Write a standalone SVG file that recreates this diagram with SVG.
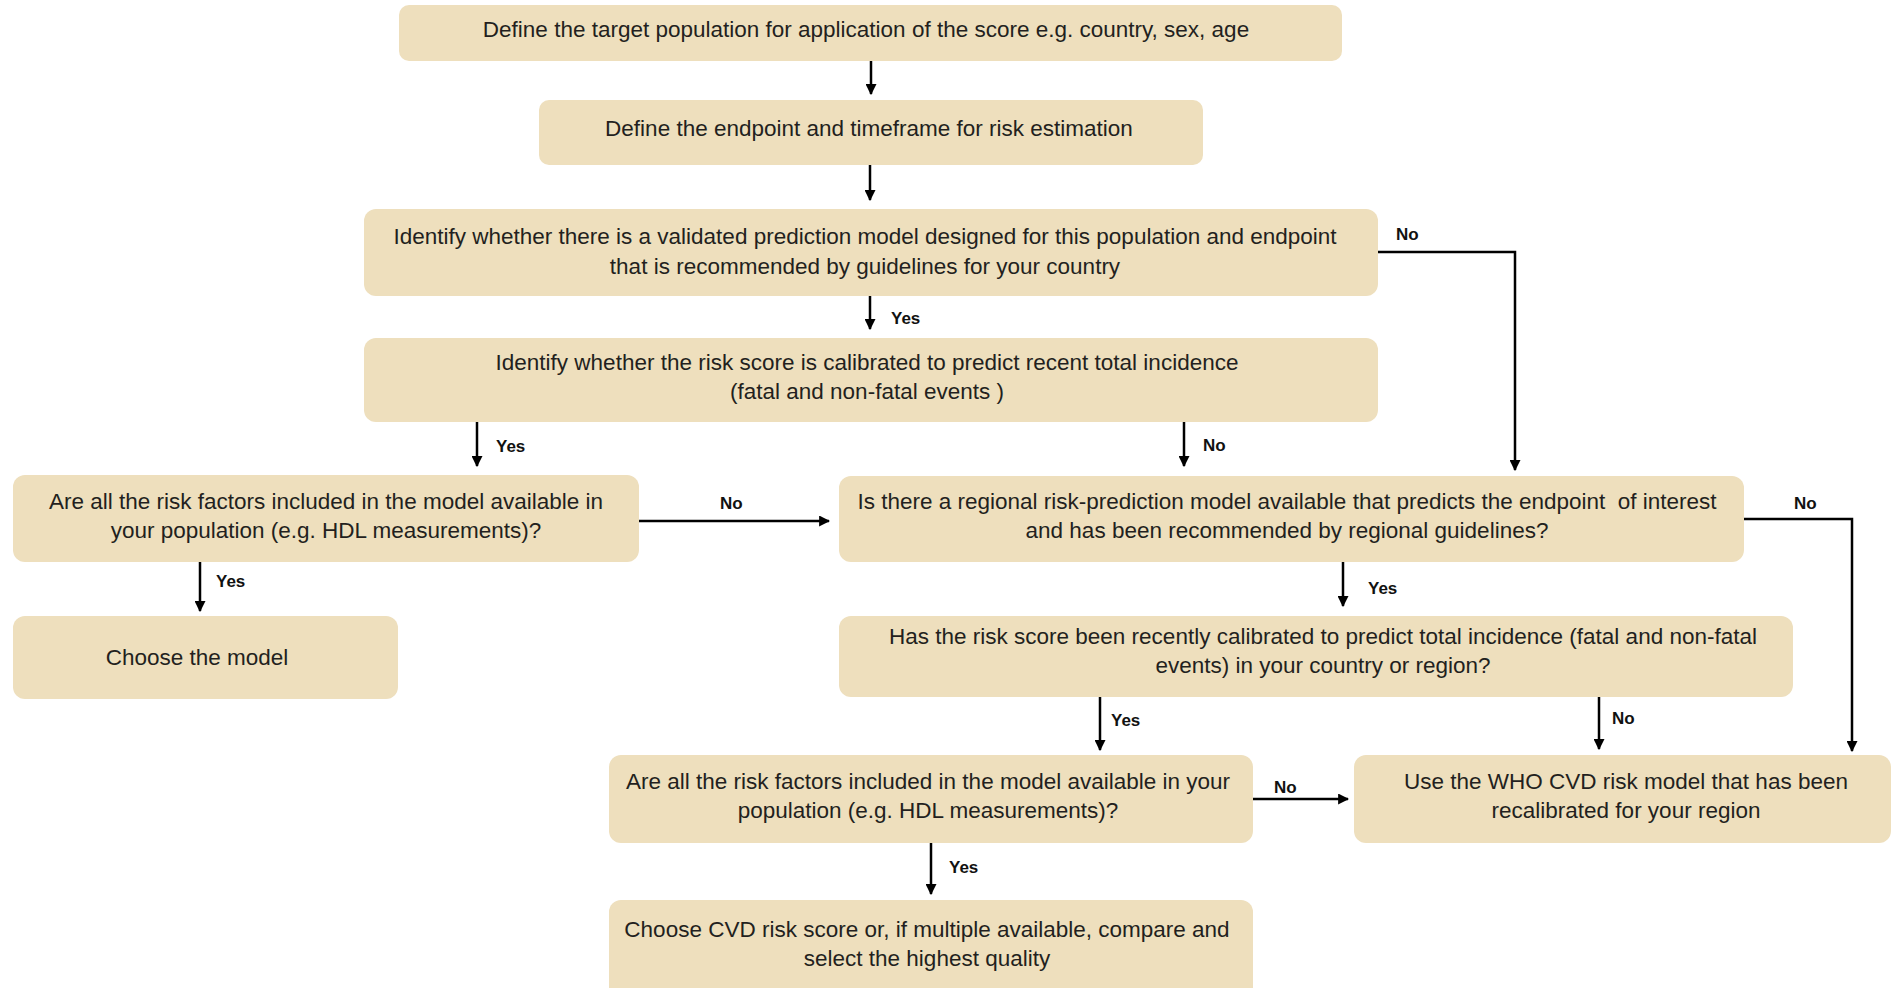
<svg xmlns="http://www.w3.org/2000/svg" width="1892" height="988" viewBox="0 0 1892 988">
  <style>
    .box { fill: #eedfbd; }
    .t { font-family: "Liberation Sans", Arial, sans-serif; font-size: 22.5px; fill: #231f20; text-anchor: middle; }
    .lbl { font-family: "Liberation Sans", Arial, sans-serif; font-size: 17px; font-weight: bold; fill: #111; }
    .ln { fill: none; stroke: #000; stroke-width: 2.5; }
  </style>
  <defs>
    <marker id="ah" viewBox="0 0 10 10" refX="9" refY="5" markerWidth="4.4" markerHeight="4.4" markerUnits="strokeWidth" orient="auto">
      <path d="M0,0 L10,5 L0,10 z" fill="#000"/>
    </marker>
  </defs>
  <rect width="1892" height="988" fill="#fff"/>

  <g id="n1"><rect class="box" x="399" y="5" width="943" height="56" rx="10"/>
    <text class="t" x="866" y="37">Define the target population for application of the score e.g. country, sex, age</text></g>
  <g id="n2"><rect class="box" x="539" y="100" width="664" height="65" rx="10"/>
    <text class="t" x="869" y="136">Define the endpoint and timeframe for risk estimation</text></g>
  <g id="n3"><rect class="box" x="364" y="209" width="1014" height="87" rx="12"/>
    <text class="t" x="865" y="244">Identify whether there is a validated prediction model designed for this population and endpoint</text>
    <text class="t" x="865" y="274">that is recommended by guidelines for your country</text></g>
  <g id="n4"><rect class="box" x="364" y="338" width="1014" height="84" rx="12"/>
    <text class="t" x="867" y="370">Identify whether the risk score is calibrated to predict recent total incidence</text>
    <text class="t" x="867" y="399">(fatal and non-fatal events )</text></g>
  <g id="n5"><rect class="box" x="13" y="475" width="626" height="87" rx="12"/>
    <text class="t" x="326" y="509">Are all the risk factors included in the model available in</text>
    <text class="t" x="326" y="538">your population (e.g. HDL measurements)?</text></g>
  <g id="n6"><rect class="box" x="13" y="616" width="385" height="83" rx="12"/>
    <text class="t" x="197" y="665">Choose the model</text></g>
  <g id="n7"><rect class="box" x="839" y="476" width="905" height="86" rx="12"/>
    <text class="t" x="1287" y="509" xml:space="preserve">Is there a regional risk-prediction model available that predicts the endpoint  of interest</text>
    <text class="t" x="1287" y="538">and has been recommended by regional guidelines?</text></g>
  <g id="n8"><rect class="box" x="839" y="616" width="954" height="81" rx="12"/>
    <text class="t" x="1323" y="644">Has the risk score been recently calibrated to predict total incidence (fatal and non-fatal</text>
    <text class="t" x="1323" y="673">events) in your country or region?</text></g>
  <g id="n9"><rect class="box" x="609" y="755" width="644" height="88" rx="12"/>
    <text class="t" x="928" y="789">Are all the risk factors included in the model available in your</text>
    <text class="t" x="928" y="818">population (e.g. HDL measurements)?</text></g>
  <g id="n10"><rect class="box" x="609" y="900" width="644" height="100" rx="12"/>
    <text class="t" x="927" y="937">Choose CVD risk score or, if multiple available, compare and</text>
    <text class="t" x="927" y="966">select the highest quality</text></g>
  <g id="n11"><rect class="box" x="1354" y="755" width="537" height="88" rx="12"/>
    <text class="t" x="1626" y="789">Use the WHO CVD risk model that has been</text>
    <text class="t" x="1626" y="818">recalibrated for your region</text></g>

  <g id="connectors">
    <path class="ln" d="M871,61 V94" marker-end="url(#ah)"/>
    <path class="ln" d="M870,165 V200" marker-end="url(#ah)"/>
    <path class="ln" d="M870,296 V329" marker-end="url(#ah)"/>
    <path class="ln" d="M1378,252 H1515 V470" marker-end="url(#ah)"/>
    <path class="ln" d="M477,422 V466" marker-end="url(#ah)"/>
    <path class="ln" d="M1184,422 V466" marker-end="url(#ah)"/>
    <path class="ln" d="M200,562 V611" marker-end="url(#ah)"/>
    <path class="ln" d="M639,521 H829" marker-end="url(#ah)"/>
    <path class="ln" d="M1343,562 V606" marker-end="url(#ah)"/>
    <path class="ln" d="M1744,519 H1852 V751" marker-end="url(#ah)"/>
    <path class="ln" d="M1100,697 V750" marker-end="url(#ah)"/>
    <path class="ln" d="M1599,697 V749" marker-end="url(#ah)"/>
    <path class="ln" d="M1253,799 H1348" marker-end="url(#ah)"/>
    <path class="ln" d="M931,843 V894" marker-end="url(#ah)"/>

    <text class="lbl" x="1396" y="240">No</text>
    <text class="lbl" x="891" y="324">Yes</text>
    <text class="lbl" x="496" y="452">Yes</text>
    <text class="lbl" x="1203" y="451">No</text>
    <text class="lbl" x="720" y="509">No</text>
    <text class="lbl" x="1794" y="509">No</text>
    <text class="lbl" x="216" y="587">Yes</text>
    <text class="lbl" x="1368" y="594">Yes</text>
    <text class="lbl" x="1111" y="726">Yes</text>
    <text class="lbl" x="1612" y="724">No</text>
    <text class="lbl" x="1274" y="793">No</text>
    <text class="lbl" x="949" y="873">Yes</text>
  </g>
</svg>
